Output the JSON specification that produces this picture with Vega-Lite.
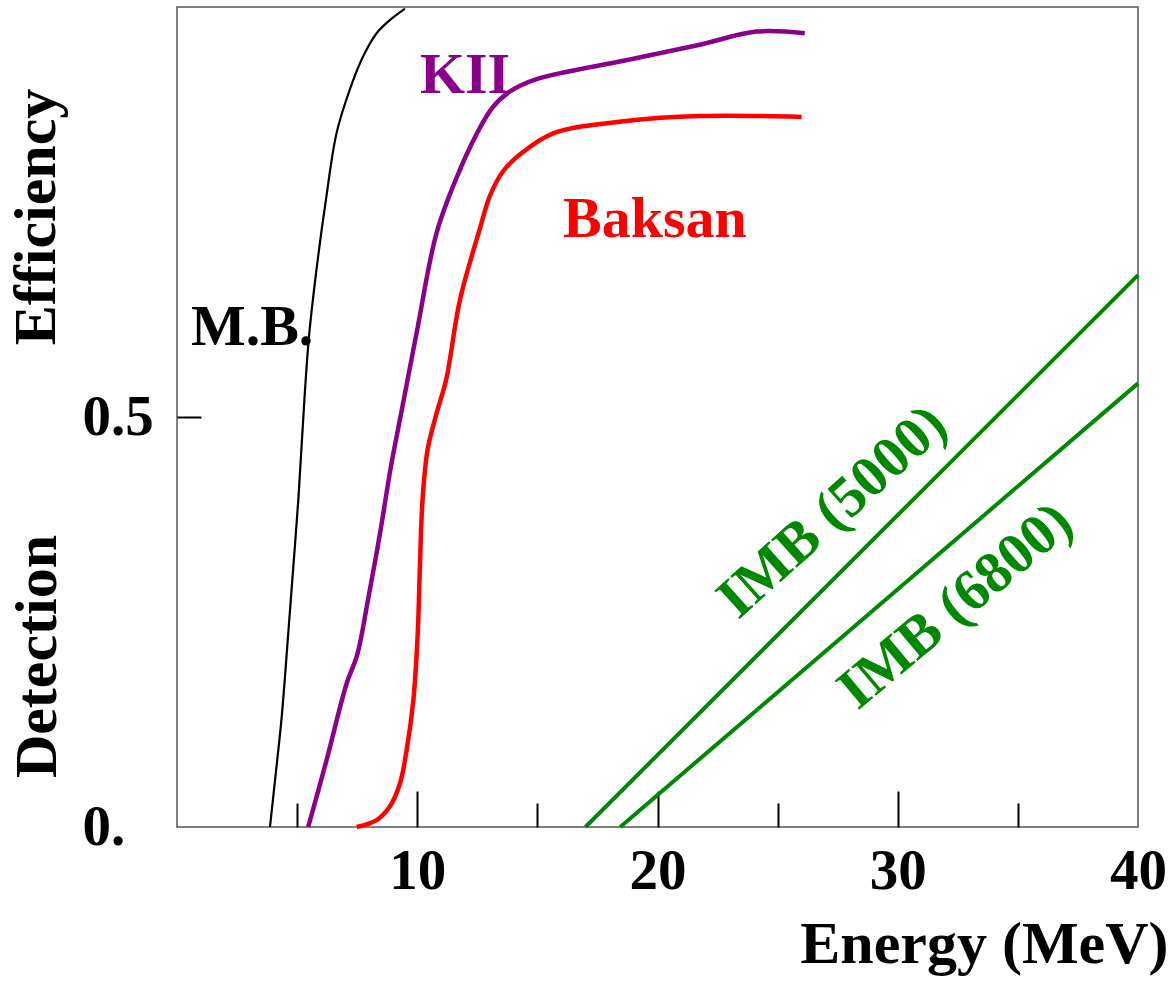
{
  "$schema": "https://vega.github.io/schema/vega-lite/v6.json",
  "width": 961,
  "height": 820,
  "autosize": "none",
  "padding": {"left": 177, "top": 7, "right": 34, "bottom": 158},
  "background": "white",
  "config": {
    "view": {"stroke": "#555555", "strokeWidth": 1.5},
    "font": "Liberation Serif"
  },
  "datasets": {
    "curves": [
      {"series": "M.B.", "E": 3.87, "eff": 0},
      {"series": "M.B.", "E": 4.08, "eff": 0.057},
      {"series": "M.B.", "E": 4.36, "eff": 0.135},
      {"series": "M.B.", "E": 4.63, "eff": 0.236},
      {"series": "M.B.", "E": 4.84, "eff": 0.317},
      {"series": "M.B.", "E": 5.05, "eff": 0.399},
      {"series": "M.B.", "E": 5.3, "eff": 0.52},
      {"series": "M.B.", "E": 5.5, "eff": 0.6},
      {"series": "M.B.", "E": 5.85, "eff": 0.69},
      {"series": "M.B.", "E": 6.2, "eff": 0.765},
      {"series": "M.B.", "E": 6.64, "eff": 0.846},
      {"series": "M.B.", "E": 7.2, "eff": 0.9},
      {"series": "M.B.", "E": 7.75, "eff": 0.94},
      {"series": "M.B.", "E": 8.31, "eff": 0.968},
      {"series": "M.B.", "E": 8.86, "eff": 0.984},
      {"series": "M.B.", "E": 9.49, "eff": 0.998},
      {"series": "KII", "E": 5.46, "eff": 0},
      {"series": "KII", "E": 6.23, "eff": 0.082},
      {"series": "KII", "E": 7.06, "eff": 0.175},
      {"series": "KII", "E": 7.5, "eff": 0.21},
      {"series": "KII", "E": 7.95, "eff": 0.277},
      {"series": "KII", "E": 8.45, "eff": 0.358},
      {"series": "KII", "E": 8.9, "eff": 0.439},
      {"series": "KII", "E": 9.3, "eff": 0.5},
      {"series": "KII", "E": 9.97, "eff": 0.602},
      {"series": "KII", "E": 10.8, "eff": 0.724},
      {"series": "KII", "E": 11.64, "eff": 0.792},
      {"series": "KII", "E": 12.47, "eff": 0.845},
      {"series": "KII", "E": 13.15, "eff": 0.878},
      {"series": "KII", "E": 13.86, "eff": 0.897},
      {"series": "KII", "E": 14.97, "eff": 0.912},
      {"series": "KII", "E": 18.7, "eff": 0.935},
      {"series": "KII", "E": 21.76, "eff": 0.954},
      {"series": "KII", "E": 24.12, "eff": 0.97},
      {"series": "KII", "E": 26.13, "eff": 0.968},
      {"series": "Baksan", "E": 7.48, "eff": 0},
      {"series": "Baksan", "E": 8.31, "eff": 0.0085},
      {"series": "Baksan", "E": 8.86, "eff": 0.025},
      {"series": "Baksan", "E": 9.28, "eff": 0.053},
      {"series": "Baksan", "E": 9.56, "eff": 0.094},
      {"series": "Baksan", "E": 9.84, "eff": 0.155},
      {"series": "Baksan", "E": 10.02, "eff": 0.236},
      {"series": "Baksan", "E": 10.11, "eff": 0.317},
      {"series": "Baksan", "E": 10.22, "eff": 0.399},
      {"series": "Baksan", "E": 10.43, "eff": 0.46},
      {"series": "Baksan", "E": 10.81, "eff": 0.505},
      {"series": "Baksan", "E": 11.2, "eff": 0.545},
      {"series": "Baksan", "E": 11.78, "eff": 0.643},
      {"series": "Baksan", "E": 12.61, "eff": 0.73},
      {"series": "Baksan", "E": 13.03, "eff": 0.77},
      {"series": "Baksan", "E": 13.58, "eff": 0.8},
      {"series": "Baksan", "E": 14.27, "eff": 0.82},
      {"series": "Baksan", "E": 15.66, "eff": 0.846},
      {"series": "Baksan", "E": 18.7, "eff": 0.861},
      {"series": "Baksan", "E": 21.76, "eff": 0.867},
      {"series": "Baksan", "E": 26.0, "eff": 0.866},
      {"series": "IMB (5000)", "E": 17.0, "eff": 0},
      {"series": "IMB (5000)", "E": 40, "eff": 0.673},
      {"series": "IMB (6800)", "E": 18.45, "eff": 0},
      {"series": "IMB (6800)", "E": 40, "eff": 0.541}
    ],
    "flatLabels": [
      {"series": "M.B.", "label": "M.B.", "E": 0.58, "eff": 0.588},
      {"series": "KII", "label": "KII", "E": 10.11, "eff": 0.895},
      {"series": "Baksan", "label": "Baksan", "E": 16.07, "eff": 0.72}
    ],
    "slantLabels": [
      {"series": "IMB (5000)", "label": "IMB (5000)", "E": 27.3, "eff": 0.384, "angle": -42},
      {"series": "IMB (6800)", "label": "IMB (6800)", "E": 32.42, "eff": 0.269, "angle": -40}
    ],
    "yTitle": [
      {"label": "Efficiency", "E": -5.08, "eff": 0.744}
    ]
  },
  "encoding": {
    "x": {
      "field": "E", "type": "quantitative",
      "scale": {"domain": [0, 40], "nice": false, "zero": false},
      "axis": {
        "title": "Energy (MeV)",
        "values": [5, 10, 15, 20, 25, 30, 35, 40],
        "labelExpr": "datum.value % 10 === 0 ? datum.label : ''",
        "domain": false, "grid": false,
        "tickColor": "black", "tickWidth": 2,
        "tickSize": {"condition": {"test": "datum.value % 10 === 0", "value": -36}, "value": -24},
        "tickOpacity": {"condition": {"test": "datum.value === 40", "value": 0}, "value": 1},
        "labelFont": "Liberation Serif", "labelFontSize": 57, "labelFontWeight": "bold", "labelColor": "black",
        "labelPadding": 97, "labelBaseline": "alphabetic", "labelAlign": "center",
        "labelFlush": false, "labelOverlap": false, "labelBound": false,
        "titleFont": "Liberation Serif", "titleFontSize": 60, "titleFontWeight": "bold", "titleColor": "black",
        "titleX": 991, "titleY": 135, "titleAlign": "right", "titleBaseline": "alphabetic", "titleAngle": 0
      }
    },
    "y": {
      "field": "eff", "type": "quantitative",
      "scale": {"domain": [0, 1], "nice": false, "zero": false},
      "axis": {
        "title": "Detection",
        "values": [0, 0.5],
        "labelExpr": "datum.value === 0 ? '0.' : '0.5'",
        "domain": false, "grid": false,
        "tickColor": "black", "tickWidth": 2, "tickSize": -24,
        "tickOpacity": {"condition": {"test": "datum.value === 0", "value": 0}, "value": 1},
        "labelFont": "Liberation Serif", "labelFontSize": 57, "labelFontWeight": "bold", "labelColor": "black",
        "labelAlign": "left", "labelBaseline": "middle", "labelPadding": 119,
        "labelFlush": false, "labelOverlap": false, "labelBound": false,
        "titleFont": "Liberation Serif", "titleFontSize": 60, "titleFontWeight": "bold", "titleColor": "black",
        "titleAngle": 270, "titleX": -122, "titleY": 649, "titleAlign": "center", "titleBaseline": "alphabetic"
      }
    }
  },
  "layer": [
    {
      "data": {"name": "curves"},
      "transform": [{"filter": "datum.series === 'M.B.'"}],
      "mark": {"type": "line", "color": "#000000", "strokeWidth": 2.2, "interpolate": "catmull-rom"},
      "encoding": {"detail": {"field": "series"}}
    },
    {
      "data": {"name": "curves"},
      "transform": [{"filter": "datum.series === 'KII'"}],
      "mark": {"type": "line", "color": "#8B008B", "strokeWidth": 4.5, "interpolate": "catmull-rom"},
      "encoding": {"detail": {"field": "series"}}
    },
    {
      "data": {"name": "curves"},
      "transform": [{"filter": "datum.series === 'Baksan'"}],
      "mark": {"type": "line", "color": "#FF0000", "strokeWidth": 4.5, "interpolate": "catmull-rom"},
      "encoding": {"detail": {"field": "series"}}
    },
    {
      "data": {"name": "curves"},
      "transform": [{"filter": "datum.series === 'IMB (5000)' || datum.series === 'IMB (6800)'"}],
      "mark": {"type": "line", "color": "#008800", "strokeWidth": 4},
      "encoding": {"detail": {"field": "series"}}
    },
    {
      "data": {"name": "flatLabels"},
      "mark": {"type": "text", "align": "left", "baseline": "alphabetic", "font": "Liberation Serif", "fontSize": 58, "fontWeight": "bold"},
      "encoding": {
        "text": {"field": "label"},
        "color": {
          "field": "series", "type": "nominal",
          "scale": {"domain": ["M.B.", "KII", "Baksan", "IMB (5000)", "IMB (6800)"], "range": ["#000000", "#8B008B", "#FF0000", "#008800", "#008800"]},
          "legend": null
        }
      }
    },
    {
      "data": {"name": "slantLabels"},
      "mark": {"type": "text", "align": "center", "baseline": "middle", "font": "Liberation Serif", "fontSize": 58, "fontWeight": "bold"},
      "encoding": {
        "text": {"field": "label"},
        "angle": {"field": "angle", "type": "quantitative", "scale": null},
        "color": {"field": "series", "type": "nominal", "legend": null}
      }
    },
    {
      "data": {"name": "yTitle"},
      "mark": {"type": "text", "align": "center", "baseline": "alphabetic", "font": "Liberation Serif", "fontSize": 60, "fontWeight": "bold", "angle": 270, "color": "black"},
      "encoding": {
        "text": {"field": "label"}
      }
    }
  ]
}
